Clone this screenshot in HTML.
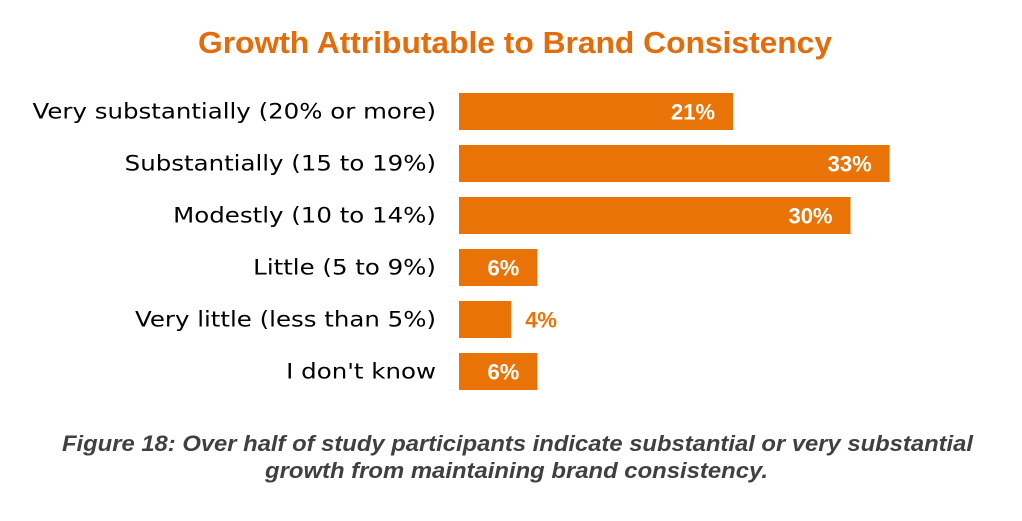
<!DOCTYPE html>
<html><head><meta charset="utf-8"><style>
body{margin:0;background:#fff;width:1022px;height:516px;overflow:hidden}
</style></head><body>
<svg width="1022" height="516" style="font-family:'Liberation Sans',sans-serif">
<text x="198" y="53" textLength="634" lengthAdjust="spacingAndGlyphs" font-size="31" font-weight="bold" fill="#E46C0A">Growth Attributable to Brand Consistency</text>
<g id="bars"></g>
<text x="62" y="451" textLength="911" lengthAdjust="spacingAndGlyphs" font-size="22" font-weight="bold" font-style="italic" fill="#404040">Figure 18: Over half of study participants indicate substantial or very substantial</text>
<text x="265" y="478" textLength="503" lengthAdjust="spacingAndGlyphs" font-size="22" font-weight="bold" font-style="italic" fill="#404040">growth from maintaining brand consistency.</text>
</svg>
<script>
const categories=["Very substantially (20% or more)","Substantially (15 to 19%)","Modestly (10 to 14%)","Little (5 to 9%)","Very little (less than 5%)","I don't know"];
const values=[21,33,30,6,4,6];
const valueLabels=["21%","33%","30%","6%","4%","6%"];
const x0=459,pxPer=13.05,y0=93,pitch=52,bh=37;
const xs=v=>x0+v*pxPer, ys=i=>y0+i*pitch;
const g=document.getElementById('bars');const NS="http://www.w3.org/2000/svg";
categories.forEach((c,i)=>{
 const t=document.createElementNS(NS,'text');
 t.setAttribute('x',436);t.setAttribute('y',ys(i)+bh/2+7);t.setAttribute('text-anchor','end');
 t.setAttribute('style','font-family:"DejaVu Sans",sans-serif;font-size:21px');t.setAttribute('fill','#000');
 
 
 t.textContent=c;g.appendChild(t);
 const w=t.getComputedTextLength();
 t.setAttribute('textLength',(w*1.165).toFixed(1));
 t.setAttribute('lengthAdjust','spacingAndGlyphs');
 const r=document.createElementNS(NS,'rect');
 r.setAttribute('x',x0);r.setAttribute('y',ys(i));r.setAttribute('width',xs(values[i])-x0);r.setAttribute('height',bh);r.setAttribute('fill','#E97306');
 
 
 g.appendChild(r);
 const v=document.createElementNS(NS,'text');
 const inside=values[i]>=5;
 v.setAttribute('x',inside?xs(values[i])-18:xs(values[i])+14);
 v.setAttribute('y',ys(i)+bh/2+8);v.setAttribute('text-anchor',inside?'end':'start');
 v.setAttribute('font-size','22');v.setAttribute('font-weight','bold');v.setAttribute('fill',inside?'#fff':'#E97306');
 
 
 v.textContent=valueLabels[i];g.appendChild(v);
});
</script>
</body></html>
